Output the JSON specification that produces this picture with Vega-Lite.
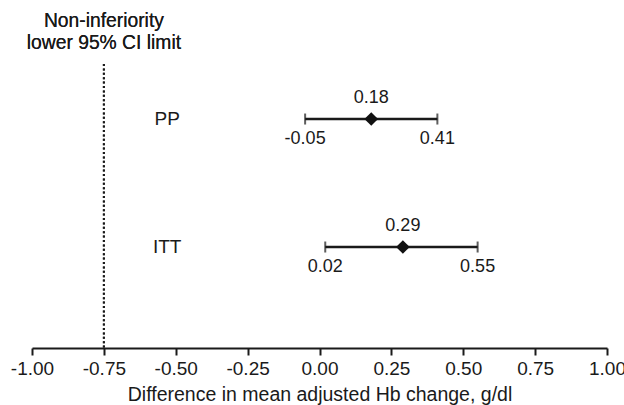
{
  "$schema": "https://vega.github.io/schema/vega-lite/v6.json",
  "width": 575,
  "height": 348,
  "autosize": {"type": "none"},
  "padding": {"left": 32, "top": 0, "right": 17, "bottom": 57},
  "background": "white",
  "config": {
    "view": {"stroke": null},
    "font": "Liberation Sans",
    "locale": {"number": {"decimal": ".", "thousands": ",", "grouping": [3], "currency": ["$", ""], "minus": "-"}}
  },
  "data": {"values": [
    {"group": "PP", "est": 0.18, "lo": -0.05, "hi": 0.41, "pos": 2},
    {"group": "ITT", "est": 0.29, "lo": 0.02, "hi": 0.55, "pos": 1}
  ]},
  "encoding": {
    "y": {"field": "pos", "type": "quantitative", "scale": {"domain": [0.211, 2.93], "nice": false, "zero": false}, "axis": null}
  },
  "layer": [
    {
      "mark": {"type": "rule", "color": "#1a1a1a", "strokeWidth": 2, "strokeDash": [2, 2.4]},
      "encoding": {
        "x": {"datum": -0.75, "type": "quantitative"},
        "y": {"datum": 2.43},
        "y2": {"datum": 0.211}
      }
    },
    {
      "mark": {"type": "text", "fontSize": 19.3, "color": "#1a1a1a", "baseline": "top", "lineBreak": "\n", "lineHeight": 22, "dy": 12},
      "encoding": {
        "x": {"datum": -0.75, "type": "quantitative"},
        "y": {"datum": 2.93},
        "text": {"value": "Non-inferiority\nlower 95% CI limit"}
      }
    },
    {
      "mark": {"type": "rule", "color": "#1a1a1a", "strokeWidth": 2.5},
      "encoding": {
        "x": {"field": "lo", "type": "quantitative", "scale": {"domain": [-1, 1], "nice": false, "zero": false},
          "axis": {
            "values": [-1, -0.75, -0.5, -0.25, 0, 0.25, 0.5, 0.75, 1],
            "format": ".2f",
            "grid": false,
            "domainColor": "#1a1a1a", "domainWidth": 2,
            "tickColor": "#1a1a1a", "tickWidth": 2, "tickSize": 7,
            "labelFontSize": 19, "labelColor": "#1a1a1a", "labelPadding": 4,
            "labelFlush": false, "labelOverlap": false,
            "title": "Difference in mean adjusted Hb change, g/dl",
            "titleFontSize": 19.5, "titleFontWeight": "normal", "titleColor": "#1a1a1a", "titlePadding": 7
          }
        },
        "x2": {"field": "hi"}
      }
    },
    {
      "mark": {"type": "tick", "orient": "vertical", "color": "#1a1a1a", "size": 11, "thickness": 2},
      "encoding": {"x": {"field": "lo", "type": "quantitative"}}
    },
    {
      "mark": {"type": "tick", "orient": "vertical", "color": "#1a1a1a", "size": 11, "thickness": 2},
      "encoding": {"x": {"field": "hi", "type": "quantitative"}}
    },
    {
      "mark": {"type": "point", "shape": "diamond", "filled": true, "color": "#111", "size": 185, "opacity": 1},
      "encoding": {"x": {"field": "est", "type": "quantitative"}}
    },
    {
      "mark": {"type": "text", "fontSize": 18, "color": "#1a1a1a", "baseline": "middle", "dy": -21},
      "encoding": {"x": {"field": "est", "type": "quantitative"}, "text": {"field": "est", "type": "quantitative", "format": ".2f"}}
    },
    {
      "mark": {"type": "text", "fontSize": 18, "color": "#1a1a1a", "baseline": "middle", "dy": 20},
      "encoding": {"x": {"field": "lo", "type": "quantitative"}, "text": {"field": "lo", "type": "quantitative", "format": ".2f"}}
    },
    {
      "mark": {"type": "text", "fontSize": 18, "color": "#1a1a1a", "baseline": "middle", "dy": 20},
      "encoding": {"x": {"field": "hi", "type": "quantitative"}, "text": {"field": "hi", "type": "quantitative", "format": ".2f"}}
    },
    {
      "mark": {"type": "text", "fontSize": 19, "color": "#1a1a1a", "baseline": "middle"},
      "encoding": {"x": {"datum": -0.53, "type": "quantitative"}, "text": {"field": "group"}}
    }
  ]
}
